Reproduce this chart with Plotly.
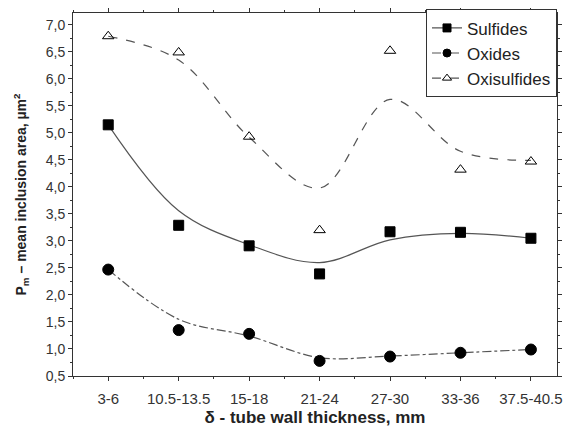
import plotly.graph_objects as go

# Tube wall thickness ranges (mm)
thickness = ["3-6", "10.5-13.5", "15-18", "21-24", "27-30", "33-36", "37.5-40.5"]

# Measured mean inclusion area, µm²
sulfides = [5.15, 3.29, 2.91, 2.39, 3.17, 3.16, 3.05]
oxides = [2.47, 1.35, 1.28, 0.78, 0.86, 0.93, 0.99]
oxisulfides = [6.79, 6.49, 4.93, 3.20, 6.52, 4.32, 4.47]

# Smoothed trend values at each thickness range
sulfides_fit = [5.15, 3.56, 2.93, 2.60, 3.02, 3.14, 3.05]
oxides_fit = [2.47, 1.55, 1.24, 0.84, 0.87, 0.93, 0.99]
oxisulfides_fit = [6.79, 6.35, 4.92, 3.98, 5.62, 4.66, 4.49]

xpos = list(range(len(thickness)))
line_col = "#555555"
font = "Liberation Sans, Arial, sans-serif"

fig = go.Figure()

series = [
    ("Sulfides", sulfides, sulfides_fit, "solid", "square", 10),
    ("Oxides", oxides, oxides_fit, "dashdot", "circle", 11),
    ("Oxisulfides", oxisulfides, oxisulfides_fit, "dash", "triangle-up-open", 10),
]

for name, vals, fit, dash, symbol, size in series:
    # smoothed trend curve
    fig.add_trace(go.Scatter(
        x=xpos, y=fit, mode="lines", showlegend=False,
        line=dict(color=line_col, width=1.2, dash=dash, shape="spline", smoothing=1.0),
        hoverinfo="skip",
    ))
    # measured points
    fig.add_trace(go.Scatter(
        x=xpos, y=vals, mode="markers", showlegend=False,
        marker=dict(symbol=symbol, size=size, color="black",
                    line=dict(color="black", width=1)),
    ))
    # legend entry
    fig.add_trace(go.Scatter(
        x=[None], y=[None], mode="lines+markers", name=name,
        line=dict(color=line_col, width=1.2, dash=dash),
        marker=dict(symbol=symbol, size=8, color="black",
                    line=dict(color="black", width=1)),
    ))

axis_common = dict(
    showline=True, linecolor="#333333", linewidth=1, mirror="allticks",
    ticks="outside", ticklen=4, tickcolor="#333333", showgrid=False, zeroline=False,
    automargin=False,
)

fig.update_xaxes(
    range=[-0.5, 6.37],
    tickmode="array", tickvals=xpos, ticktext=thickness,
    tickfont=dict(family=font, size=15, color="#333333"),
    ticklabelstandoff=5,
    minor=dict(tickmode="array", tickvals=[-0.5, 0.5, 1.5, 2.5, 3.5, 4.5, 5.5],
               ticklen=2, tickcolor="#333333", ticks="outside"),
    title=dict(text="δ - tube wall thickness, mm",
               font=dict(family=font, size=17, color="#222222", weight="bold")),
    **axis_common,
)
fig.update_yaxes(
    range=[0.5, 7.22],
    tickmode="linear", tick0=0.5, dtick=0.5, tickformat=".1f",
    tickfont=dict(family=font, size=14, color="#333333"),
    minor=dict(dtick=0.25, ticklen=2, tickcolor="#333333", ticks="outside"),
    title=dict(text="P<sub>m</sub> – mean inclusion area, µm<sup>2</sup>",
               font=dict(family=font, size=14, color="#222222", weight="bold")),
    **axis_common,
)

fig.update_layout(
    width=563, height=427,
    margin=dict(l=73, r=6, t=13, b=51),
    paper_bgcolor="white", plot_bgcolor="white",
    separators=",.",
    font=dict(family=font, size=12, color="#222222"),
    legend=dict(
        x=1.0, y=1.01, xanchor="right", yanchor="top",
        bgcolor="white", bordercolor="#333333", borderwidth=1,
        font=dict(family=font, size=17, color="#222222"),
        tracegroupgap=0, itemwidth=30,
    ),
)

fig.write_html("out.html")
